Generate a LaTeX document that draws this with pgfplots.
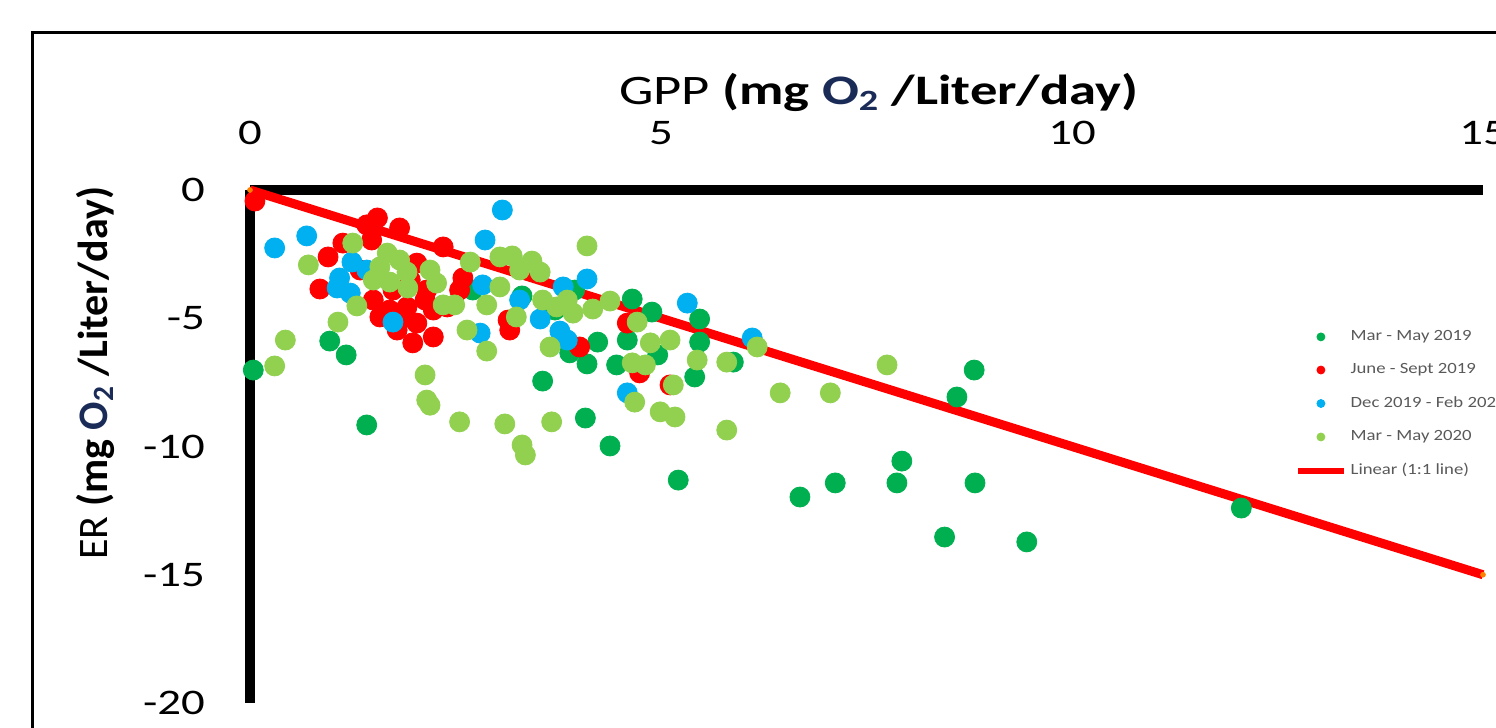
\documentclass[border=0pt]{standalone}
\usepackage{fontspec}
\setmainfont{Carlito}
\newfontfamily\tickfont[FakeStretch=1.3]{Carlito}
\newfontfamily\labfont[FakeStretch=1.3]{Carlito}
\newfontfamily\legfont[FakeStretch=1.2]{Carlito}
\usepackage{pgfplots}
\pgfplotsset{compat=1.18}
\definecolor{drkgreen}{HTML}{00B050}
\definecolor{ltgreen}{HTML}{92D050}
\definecolor{skyblue}{HTML}{00B0F0}
\definecolor{navyO}{HTML}{1A2B57}
\definecolor{leggray}{HTML}{595959}

\begin{document}
\begin{tikzpicture}
\useasboundingbox (-125pt,-12.5pt) rectangle (623pt,351.5pt);
% frame of the cropped figure
\draw[line width=1.5pt] (-108.5pt,-30pt) -- (-108.5pt,335pt) -- (650pt,335pt);
\begin{axis}[
    at={(0pt,0pt)}, anchor=south west,
    scale only axis, width=616.5pt, height=256.5pt,
    xmin=0, xmax=15, ymin=-20, ymax=0,
    axis x line*=top, axis y line*=left,
    axis line style={line width=5pt},
    xtick={0,5,10,15}, xticklabels={0,5,10,15},
    ytick={-20,-15,-10,-5,0}, yticklabels={-20,-15,-10,-5,0},
    major tick length=0pt,
    tick label style={font=\tickfont\fontsize{18}{21}\selectfont},
    xticklabel style={yshift=19pt},
    yticklabel style={xshift=-19pt},
    xlabel={GPP \textbf{(mg \textcolor{navyO}{O\textsubscript{2}} /Liter/day)}},
    xlabel style={font=\labfont\fontsize{21}{25}\selectfont, at={(axis description cs:0.51,1.191)}, anchor=center},
    ylabel={ER \textbf{(mg \textcolor{navyO}{O\textsubscript{2}} /Liter/day)}},
    ylabel style={font=\fontsize{21}{25}\selectfont, at={(axis description cs:-0.1257,0.643)}, anchor=center},
    legend style={draw=none, fill=none, at={(axis cs:12.71,-5.3)}, anchor=north west,
        font=\legfont\fontsize{7.8}{9}\selectfont, text=leggray, row sep=6pt, inner sep=0pt},
    legend cell align=left,
    clip=false,
]

% Mar - May 2019
\addplot[only marks, mark=*, mark size=5pt, color=drkgreen, forget plot] table {
x y
0.04 -7.02
0.97 -5.89
1.17 -6.43
1.42 -9.16
2.71 -3.90
3.31 -4.13
3.56 -7.45
3.71 -4.68
3.89 -6.35
3.95 -3.90
4.10 -6.78
4.23 -5.93
4.46 -6.82
4.59 -5.85
4.65 -4.25
4.89 -4.76
4.96 -6.43
5.41 -7.29
5.47 -5.03
5.47 -5.93
5.88 -6.71
4.08 -8.89
4.38 -9.98
5.21 -11.31
6.69 -11.97
7.12 -11.42
7.87 -11.42
7.93 -10.57
8.45 -13.53
9.45 -13.72
8.60 -8.07
8.81 -7.02
8.82 -11.42
12.06 -12.40
};

% June - Sept 2019
\addplot[only marks, mark=*, mark size=5pt, color=red, forget plot] table {
x y
0.06 -0.43
1.55 -1.09
1.42 -1.36
1.82 -1.48
1.48 -1.95
2.35 -2.22
1.13 -2.07
0.95 -2.61
0.85 -3.86
1.50 -4.29
1.70 -4.68
2.03 -2.85
2.15 -3.90
2.03 -5.19
2.23 -5.73
1.98 -5.96
1.79 -5.46
1.58 -4.95
2.59 -3.43
2.55 -3.90
2.40 -4.56
2.23 -4.68
1.91 -4.56
1.74 -3.90
3.14 -5.07
3.16 -5.46
4.01 -6.12
4.59 -5.19
4.74 -7.13
5.11 -7.60
1.34 -3.12
1.95 -3.51
1.82 -5.07
2.13 -4.29
};

% Dec 2019 - Feb 2020
\addplot[only marks, mark=*, mark size=5pt, color=skyblue, forget plot] table {
x y
0.30 -2.26
0.69 -1.79
3.07 -0.78
2.86 -1.95
1.24 -2.81
1.42 -3.12
1.09 -3.43
1.06 -3.82
1.22 -4.02
1.74 -5.15
2.83 -3.70
2.80 -5.58
4.10 -3.47
3.81 -3.78
3.53 -5.03
3.77 -5.50
3.86 -5.85
5.32 -4.41
6.11 -5.77
4.59 -7.91
3.28 -4.29
};

% Mar - May 2020
\addplot[only marks, mark=*, mark size=5pt, color=ltgreen, forget plot] table {
x y
0.43 -5.85
0.30 -6.86
0.71 -2.92
1.25 -2.07
1.67 -2.46
1.82 -2.73
1.58 -3.00
1.50 -3.51
1.70 -3.59
1.91 -3.20
2.19 -3.12
2.27 -3.63
1.92 -3.82
1.30 -4.52
2.35 -4.48
2.49 -4.48
1.07 -5.15
2.64 -5.46
2.88 -6.28
4.10 -2.18
3.04 -2.61
3.19 -2.57
3.43 -2.77
3.53 -3.20
3.04 -3.78
2.88 -4.48
3.24 -4.95
3.56 -4.29
3.73 -4.56
3.93 -4.80
4.17 -4.64
4.38 -4.33
4.71 -5.15
4.87 -5.96
5.11 -5.85
3.65 -6.12
4.65 -6.74
4.81 -6.82
5.44 -6.63
5.80 -6.71
5.15 -7.60
4.68 -8.27
4.99 -8.65
5.17 -8.85
5.80 -9.36
7.75 -6.82
6.45 -7.91
7.06 -7.91
6.17 -6.12
2.13 -7.21
2.15 -8.19
2.19 -8.39
2.55 -9.04
3.10 -9.12
3.31 -9.94
3.35 -10.33
3.67 -9.04
3.86 -4.29
3.28 -3.12
2.68 -2.81
};

% 1:1 line
\addplot[red, line width=4.5pt, forget plot] coordinates {(0,0) (15,-15)};
\addplot[only marks, mark=*, mark size=1.2pt, color=orange, forget plot] coordinates {(0,0) (15,-15)};

\addlegendimage{legend image code/.code={\fill[drkgreen] (0.4cm,0cm) circle (2pt);}}
\addlegendentry{Mar - May 2019}
\addlegendimage{legend image code/.code={\fill[red] (0.4cm,0cm) circle (2pt);}}
\addlegendentry{June - Sept 2019}
\addlegendimage{legend image code/.code={\fill[skyblue] (0.4cm,0cm) circle (2pt);}}
\addlegendentry{Dec 2019 - Feb 2020}
\addlegendimage{legend image code/.code={\fill[ltgreen] (0.4cm,0cm) circle (2pt);}}
\addlegendentry{Mar - May 2020}
\addlegendimage{legend image code/.code={\draw[red, line width=3pt] (0cm,0cm) -- (0.8cm,0cm);}}
\addlegendentry{Linear (1:1 line)}

\end{axis}
\end{tikzpicture}
\end{document}
